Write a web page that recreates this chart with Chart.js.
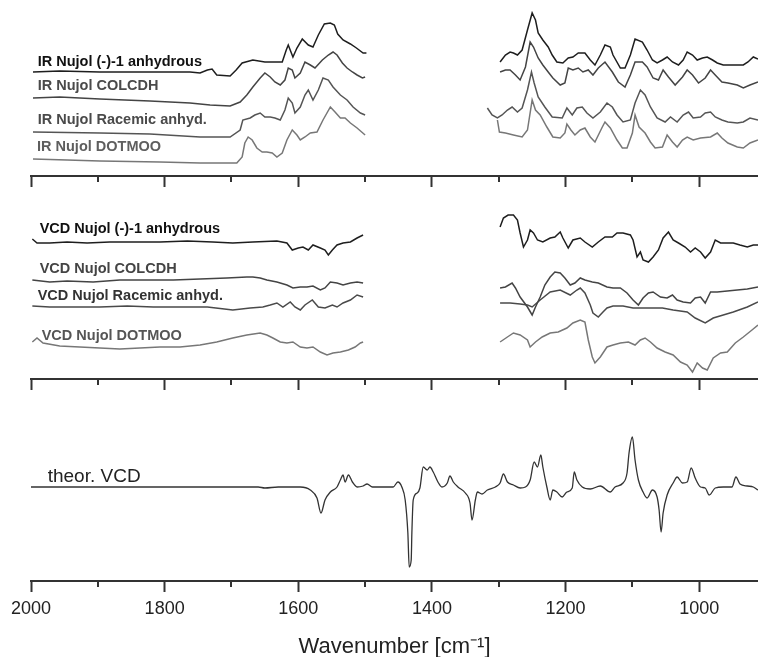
<!DOCTYPE html>
<html>
<head>
<meta charset="utf-8">
<script src="https://cdn.jsdelivr.net/npm/chart.js@4/dist/chart.umd.min.js"></script>
<style>
  html, body { margin: 0; padding: 0; background: #fff; }
  #wrap { position: relative; width: 758px; height: 657px; overflow: hidden; }
  canvas { position: absolute; left: 0; }
</style>
</head>
<body>
<div id="wrap">
  <canvas id="irChart" width="758" height="190" style="top:0px"></canvas>
  <canvas id="vcdChart" width="758" height="200" style="top:190px"></canvas>
  <canvas id="theoChart" width="758" height="270" style="top:390px"></canvas>
</div>
<script>
// x axis (wavenumber, cm-1)
const xMin = 912;
const xMax = 2000;
const majorTicks = [2000, 1800, 1600, 1400, 1200, 1000];
const minorTicks = [1900, 1700, 1500, 1300, 1100];

// ---------- IR spectra (stacked, arbitrary units) ----------
const irAnhydrousLeft = [[1997,104],[1957,105],[1897,104],[1822,104],[1762,104],[1747,103],[1736,106],[1729,107],[1722,101],[1702,100],[1693,106],[1684,113],[1668,116],[1650,114],[1624,114],[1618,126],[1615,131],[1608,119],[1602,128],[1594,137],[1585,131],[1578,129],[1570,141],[1561,152],[1552,153],[1546,151],[1541,142],[1533,136],[1522,132],[1513,128],[1503,123],[1498,123]];
const irAnhydrousRight = [[1298,114],[1290,121],[1283,124],[1278,123],[1272,121],[1265,126],[1257,146],[1250,163],[1245,156],[1241,143],[1234,136],[1226,129],[1220,121],[1213,114],[1204,113],[1196,118],[1189,119],[1181,123],[1171,123],[1163,116],[1156,111],[1148,121],[1141,131],[1133,129],[1129,121],[1118,108],[1111,108],[1103,121],[1096,137],[1085,134],[1078,126],[1070,116],[1063,113],[1055,116],[1048,119],[1040,114],[1031,111],[1024,116],[1018,124],[1010,121],[1003,116],[995,118],[988,119],[980,116],[973,113],[964,111],[949,111],[934,111],[927,114],[919,119],[912,117]];

const irColcdhLeft = [[1997,78],[1957,79],[1897,77],[1822,75],[1762,73],[1732,71],[1702,70],[1687,74],[1677,81],[1668,89],[1657,98],[1650,103],[1642,99],[1635,94],[1627,91],[1620,96],[1615,108],[1609,106],[1605,98],[1597,103],[1590,114],[1582,111],[1575,108],[1564,116],[1555,121],[1548,124],[1542,121],[1534,113],[1527,108],[1519,104],[1512,101],[1504,98],[1500,99]];
const irColcdhRight = [[1298,104],[1290,106],[1283,106],[1275,101],[1268,96],[1260,109],[1253,134],[1248,129],[1241,118],[1234,111],[1226,104],[1219,98],[1208,91],[1201,93],[1196,108],[1189,106],[1181,108],[1174,104],[1166,106],[1159,101],[1151,108],[1141,114],[1130,104],[1121,94],[1111,89],[1103,101],[1096,114],[1085,114],[1078,109],[1069,98],[1061,96],[1054,106],[1046,99],[1036,91],[1025,99],[1018,106],[1010,101],[1001,93],[991,98],[983,106],[976,101],[966,94],[957,93],[943,91],[934,88],[924,91],[912,94]];

const irRacemicLeft = [[1997,44],[1897,43],[1822,42],[1747,39],[1722,39],[1702,39],[1687,46],[1683,56],[1672,58],[1665,61],[1657,63],[1650,59],[1642,59],[1635,58],[1627,56],[1620,66],[1615,78],[1609,73],[1605,63],[1597,69],[1590,81],[1585,86],[1578,76],[1570,86],[1563,98],[1555,96],[1548,89],[1537,81],[1527,76],[1518,69],[1507,63],[1500,61]];
const irRacemicRight = [[1317,68],[1310,61],[1302,58],[1295,61],[1287,66],[1280,69],[1272,64],[1265,68],[1257,86],[1251,104],[1247,93],[1241,79],[1231,69],[1220,59],[1205,58],[1198,68],[1190,61],[1183,68],[1175,69],[1168,63],[1159,58],[1148,64],[1138,73],[1130,69],[1123,61],[1114,54],[1103,56],[1096,73],[1088,86],[1081,81],[1073,69],[1063,58],[1051,54],[1043,59],[1033,54],[1024,61],[1016,64],[1009,58],[998,59],[991,63],[983,64],[976,59],[966,56],[957,54],[943,53],[934,54],[924,58],[912,56]];

const irDotmooLeft = [[1997,17],[1946,16],[1897,15],[1807,14],[1747,13],[1692,13],[1684,19],[1680,33],[1675,39],[1669,36],[1662,28],[1654,24],[1647,24],[1639,23],[1632,19],[1624,23],[1617,36],[1609,46],[1602,41],[1597,36],[1590,39],[1582,43],[1572,44],[1563,56],[1552,69],[1545,64],[1537,58],[1530,58],[1522,53],[1512,48],[1500,41]];
const irDotmooRight = [[1302,56],[1299,44],[1290,43],[1278,41],[1265,39],[1257,46],[1250,76],[1245,66],[1238,61],[1228,49],[1219,39],[1208,38],[1201,43],[1198,52],[1192,46],[1186,41],[1178,46],[1171,48],[1163,39],[1156,34],[1145,49],[1141,54],[1133,48],[1123,36],[1115,28],[1108,28],[1100,43],[1096,61],[1090,49],[1081,43],[1073,34],[1066,28],[1055,29],[1048,41],[1040,34],[1033,29],[1025,36],[1018,39],[1009,36],[998,38],[983,39],[973,43],[966,38],[957,33],[943,29],[934,28],[924,33],[912,36]];

// ---------- VCD spectra (stacked, arbitrary units) ----------
const vcdAnhydrousLeft = [[1998,140],[1991,136],[1972,136],[1946,137],[1916,136],[1882,137],[1847,137],[1807,137],[1766,138],[1728,137],[1698,136],[1668,137],[1632,138],[1617,136],[1609,129],[1600,131],[1593,132],[1585,129],[1578,134],[1567,131],[1560,129],[1555,124],[1549,129],[1542,134],[1533,136],[1522,137],[1512,141],[1503,144]];
const vcdAnhydrousRight = [[1298,152],[1293,161],[1286,164],[1278,164],[1272,159],[1268,146],[1263,132],[1257,139],[1253,149],[1248,146],[1242,139],[1234,137],[1223,141],[1216,142],[1208,147],[1204,141],[1196,131],[1189,139],[1178,141],[1171,137],[1160,132],[1151,137],[1141,142],[1130,142],[1123,146],[1114,146],[1103,144],[1099,139],[1093,122],[1088,127],[1084,119],[1076,117],[1069,122],[1061,129],[1054,141],[1046,147],[1039,139],[1031,136],[1021,132],[1013,127],[1006,131],[998,127],[991,121],[983,127],[976,139],[968,136],[958,136],[949,136],[939,134],[928,132],[919,134],[912,134]];

const vcdColcdhLeft = [[1998,99],[1972,97],[1946,98],[1907,97],[1867,99],[1826,99],[1787,99],[1747,100],[1707,101],[1677,102],[1668,102],[1657,101],[1647,99],[1632,97],[1617,94],[1608,91],[1597,92],[1587,92],[1578,93],[1567,89],[1560,91],[1552,97],[1542,96],[1533,94],[1522,96],[1512,97],[1503,96]];
const vcdColcdhRight = [[1298,91],[1290,92],[1280,96],[1275,91],[1268,82],[1257,72],[1250,64],[1245,72],[1238,82],[1231,94],[1223,102],[1216,107],[1208,106],[1201,101],[1193,94],[1186,96],[1178,101],[1171,99],[1160,97],[1151,96],[1138,92],[1129,91],[1118,91],[1108,86],[1099,79],[1091,74],[1084,81],[1076,86],[1069,87],[1058,82],[1048,81],[1040,84],[1033,79],[1024,77],[1013,76],[1006,81],[998,82],[991,76],[983,87],[973,87],[958,88],[943,89],[928,90],[912,92]];

const vcdRacemicLeft = [[1998,73],[1972,72],[1937,72],[1897,72],[1856,73],[1817,72],[1777,72],[1736,72],[1698,69],[1672,71],[1653,72],[1642,74],[1632,76],[1623,72],[1612,77],[1605,72],[1597,69],[1590,74],[1579,79],[1570,72],[1560,71],[1549,74],[1542,72],[1533,76],[1522,79],[1512,84],[1503,82]];
const vcdRacemicRight = [[1298,76],[1283,76],[1268,75],[1257,74],[1250,72],[1238,79],[1223,87],[1208,89],[1193,84],[1183,89],[1178,91],[1171,86],[1163,74],[1159,66],[1151,62],[1144,67],[1138,71],[1129,73],[1114,73],[1099,71],[1078,71],[1055,71],[1039,69],[1018,67],[1006,61],[991,56],[979,61],[964,64],[949,67],[928,72],[912,77]];

const vcdDotmooLeft = [[1998,37],[1991,41],[1982,36],[1957,33],[1927,32],[1897,31],[1867,30],[1837,31],[1807,32],[1777,32],[1747,34],[1722,37],[1698,41],[1677,44],[1657,46],[1647,44],[1638,41],[1627,37],[1617,36],[1608,37],[1597,32],[1587,31],[1578,32],[1567,27],[1557,24],[1548,26],[1537,27],[1525,29],[1515,32],[1507,36],[1503,37]];
const vcdDotmooRight = [[1298,37],[1287,42],[1278,46],[1268,44],[1257,39],[1253,32],[1245,37],[1235,42],[1223,46],[1211,47],[1198,51],[1189,56],[1178,59],[1171,57],[1166,39],[1160,22],[1156,16],[1148,22],[1138,32],[1129,34],[1118,36],[1106,37],[1096,34],[1088,39],[1081,41],[1073,37],[1063,31],[1051,27],[1039,24],[1028,17],[1018,14],[1010,7],[1003,16],[995,11],[988,9],[979,21],[968,26],[958,27],[946,36],[934,42],[921,49],[912,54]];

// ---------- theoretical VCD ----------
const theorVcd = [[2000,0],[1700,0],[1660,0],[1650,-1],[1630,0],[1597,0],[1582,-3],[1572,-11],[1566,-26],[1560,-13],[1552,-5],[1542,0],[1537,7],[1533,12],[1530,5],[1525,12],[1519,5],[1512,0],[1503,1],[1497,3],[1489,0],[1458,0],[1451,5],[1445,0],[1440,-13],[1436,-46],[1434,-80],[1431,-73],[1430,-46],[1428,-13],[1422,-6],[1418,-1],[1413,20],[1407,17],[1403,20],[1398,15],[1391,5],[1385,0],[1377,4],[1373,11],[1368,5],[1361,0],[1350,-6],[1343,-16],[1340,-33],[1335,-13],[1332,-5],[1325,-7],[1317,-3],[1305,0],[1298,4],[1293,13],[1287,5],[1278,2],[1268,-1],[1260,0],[1253,7],[1247,25],[1242,20],[1237,32],[1234,20],[1228,0],[1223,-13],[1219,-3],[1213,-5],[1205,-10],[1198,-5],[1190,-1],[1187,15],[1183,7],[1175,0],[1163,-2],[1148,1],[1133,-5],[1126,0],[1114,4],[1108,14],[1105,34],[1100,50],[1096,27],[1091,7],[1084,-5],[1078,-11],[1070,-3],[1063,-10],[1060,-23],[1057,-45],[1054,-26],[1048,-8],[1039,4],[1033,10],[1025,4],[1018,5],[1012,19],[1006,9],[998,0],[991,-1],[985,-8],[976,-1],[964,0],[951,0],[945,10],[939,3],[928,1],[919,0],[912,-3]];

const irNames = ["IR Nujol (-)-1 anhydrous", "IR Nujol COLCDH", "IR Nujol Racemic anhyd.", "IR Nujol DOTMOO"];
const vcdNames = ["VCD Nujol (-)-1 anhydrous", "VCD Nujol COLCDH", "VCD Nujol Racemic anhyd.", "VCD Nujol DOTMOO"];
const irLabelPos = [[1990, 114], [1990, 90], [1990, 56], [1991, 29]];
const vcdLabelPos = [[1987, 150], [1987, 110], [1990, 83], [1984, 43]];
const theorLabel = "theor. VCD";
const theorLabelPos = [1975, 10];

const FONT = "'Liberation Sans', Arial, Helvetica, sans-serif";

function toPoints(left, right) {
  const pts = left.map(p => ({ x: p[0], y: p[1] }));
  pts.push({ x: 1400, y: null }); // gap between the two measured regions
  if (right) right.forEach(p => pts.push({ x: p[0], y: p[1] }));
  return pts;
}

function lineSet(data, color, width) {
  return {
    data: data,
    borderColor: color,
    borderWidth: width,
    pointRadius: 0,
    tension: 0,
    spanGaps: false,
    fill: false,
    clip: false
  };
}

// minor ticks + trace labels
const decorPlugin = {
  id: "decor",
  afterDraw(chart, args, opts) {
    const ctx = chart.ctx;
    const xs = chart.scales.x;
    const ys = chart.scales.y;
    ctx.save();
    ctx.strokeStyle = "#333";
    ctx.lineWidth = 2;
    minorTicks.forEach(v => {
      const px = Math.round(xs.getPixelForValue(v));
      ctx.beginPath();
      ctx.moveTo(px, xs.top);
      ctx.lineTo(px, xs.top + 6);
      ctx.stroke();
    });
    (opts.labels || []).forEach(l => {
      ctx.font = l.font;
      ctx.fillStyle = l.color;
      ctx.textAlign = "left";
      ctx.textBaseline = "middle";
      ctx.fillText(l.text, xs.getPixelForValue(l.x), ys.getPixelForValue(l.y));
    });
    ctx.restore();
  }
};

function makeChart(id, datasets, yMin, yMax, labels, padBottom, showTicks) {
  const xScale = {
    type: "linear",
    reverse: true,
    min: xMin,
    max: xMax,
    afterBuildTicks: axis => { axis.ticks = majorTicks.map(v => ({ value: v })); },
    grid: { drawOnChartArea: false, drawTicks: true, tickLength: 11, tickColor: "#333", tickWidth: 2 },
    border: { display: true, color: "#333", width: 2 },
    ticks: {
      display: showTicks, padding: 6, color: "#222",
      font: { family: FONT, size: 18 }, maxRotation: 0, autoSkip: false,
      callback: v => String(v)
    },
    title: { display: showTicks, text: "Wavenumber [cm\u207B\u00B9]", color: "#222", font: { family: FONT, size: 22 }, padding: { top: 8, bottom: 0 } }
  };
  return new Chart(document.getElementById(id), {
    type: "line",
    data: { datasets: datasets },
    options: {
      responsive: false,
      animation: false,
      events: [],
      layout: { padding: { left: 31, right: 0, top: 0, bottom: padBottom } },
      plugins: { legend: { display: false }, tooltip: { enabled: false }, decor: { labels: labels } },
      scales: {
        x: xScale,
        y: { display: false, min: yMin, max: yMax }
      }
    },
    plugins: [decorPlugin]
  });
}

const irColors = ["#1e1e1e", "#444", "#555", "#777"];
const irLabelColors = ["#111", "#4a4a4a", "#4a4a4a", "#5e5e5e"];
const vcdColors = ["#1e1e1e", "#444", "#4a4a4a", "#777"];
const vcdLabelColors = ["#111", "#444", "#333", "#555"];

const irData = [
  toPoints(irAnhydrousLeft, irAnhydrousRight),
  toPoints(irColcdhLeft, irColcdhRight),
  toPoints(irRacemicLeft, irRacemicRight),
  toPoints(irDotmooLeft, irDotmooRight)
];
const vcdData = [
  toPoints(vcdAnhydrousLeft, vcdAnhydrousRight),
  toPoints(vcdColcdhLeft, vcdColcdhRight),
  toPoints(vcdRacemicLeft, vcdRacemicRight),
  toPoints(vcdDotmooLeft, vcdDotmooRight)
];

makeChart("irChart",
  irData.map((d, i) => lineSet(d, irColors[i], 1.5)),
  0, 176,
  irNames.map((t, i) => ({ text: t, x: irLabelPos[i][0], y: irLabelPos[i][1], color: irLabelColors[i], font: "bold 14.5px " + FONT })),
  3, false);

makeChart("vcdChart",
  vcdData.map((d, i) => lineSet(d, vcdColors[i], 1.5)),
  0, 189,
  vcdNames.map((t, i) => ({ text: t, x: vcdLabelPos[i][0], y: vcdLabelPos[i][1], color: vcdLabelColors[i], font: "bold 14.5px " + FONT })),
  0, false);

const theorSet = lineSet(theorVcd.map(p => ({ x: p[0], y: p[1] })), "#333", 1.3);
theorSet.cubicInterpolationMode = "monotone";
makeChart("theoChart",
  [theorSet],
  -94, 97,
  [{ text: theorLabel, x: theorLabelPos[0], y: theorLabelPos[1], color: "#222", font: "19px " + FONT }],
  0, true);
</script>
</body>
</html>
